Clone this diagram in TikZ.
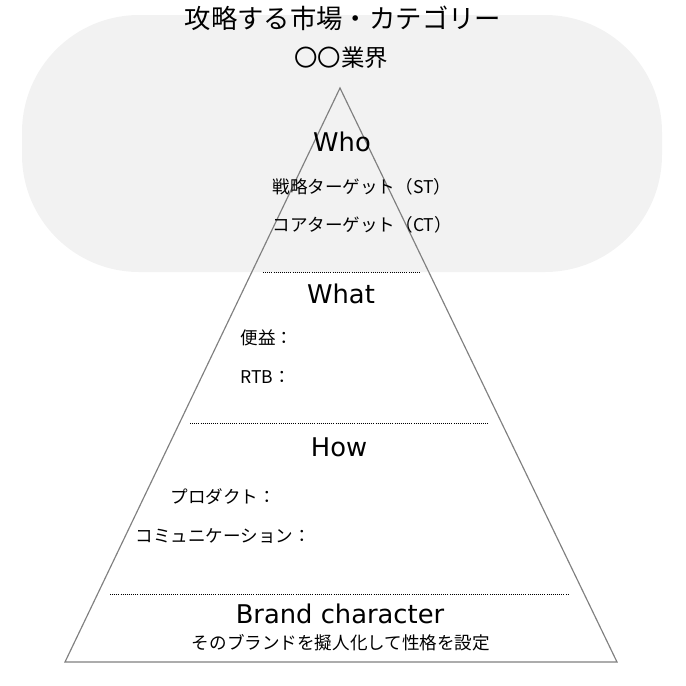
\documentclass[tikz,border=0pt]{standalone}
\usepackage{fontspec}
\setmainfont{DejaVu Sans}
\newfontfamily\jp{Noto Sans CJK JP}
\usetikzlibrary{positioning}

\begin{document}
\begin{tikzpicture}[x=0.03cm, y=-0.03cm, line width=1pt]
\tikzset{
  head/.style={font=\fontsize{22}{26}\selectfont},
  item/.style={font=\jp\fontsize{15}{18}\selectfont, anchor=west},
  sep/.style={densely dotted, line width=0.8pt}
}
\useasboundingbox (0,0) rectangle (686,686);
\fill[gray!10, rounded corners=100] (22,15) rectangle (662,272);
\node[font=\jp\fontsize{22.5}{26}\selectfont] (market) at (343,18) {攻略する市場・カテゴリー};
\node[font=\jp\fontsize{20}{24}\selectfont] (industry) at (341,58) {〇〇業界};
\coordinate (top) at (340,88);
\coordinate (bl) at (65,662);
\coordinate (br) at (617,662);
\draw[gray] (top) -- (bl) -- (br) -- cycle;
% Who
\node[head] (who) at (342,142) {Who};
\node[item] (st) at (268,187) {戦略ターゲット（ST）};
\node[item] (ct) at (268,225) {コアターゲット（CT）};
\coordinate (s1l) at (263,272); \coordinate (s1r) at (420,272);
\draw[sep] (s1l) -- (s1r);
% What
\node[head] (what) at (341,294) {What};
\node[item] (benefit) at (236,338) {便益：};
\node[item] (rtb) at (236,377) {RTB：};
\coordinate (s2l) at (190,423); \coordinate (s2r) at (488,423);
\draw[sep] (s2l) -- (s2r);
% How
\node[head] (how) at (339,447) {How};
\node[item] (product) at (166,497) {プロダクト：};
\node[item] (comm) at (131,536) {コミュニケーション：};
\coordinate (s3l) at (110,594); \coordinate (s3r) at (568,594);
\draw[sep] (s3l) -- (s3r);
% Brand character
\node[head] (brand) at (340,614) {Brand character};
\node[font=\jp\fontsize{15}{18}\selectfont] (persona) at (341,643) {そのブランドを擬人化して性格を設定};
\end{tikzpicture}
\end{document}
